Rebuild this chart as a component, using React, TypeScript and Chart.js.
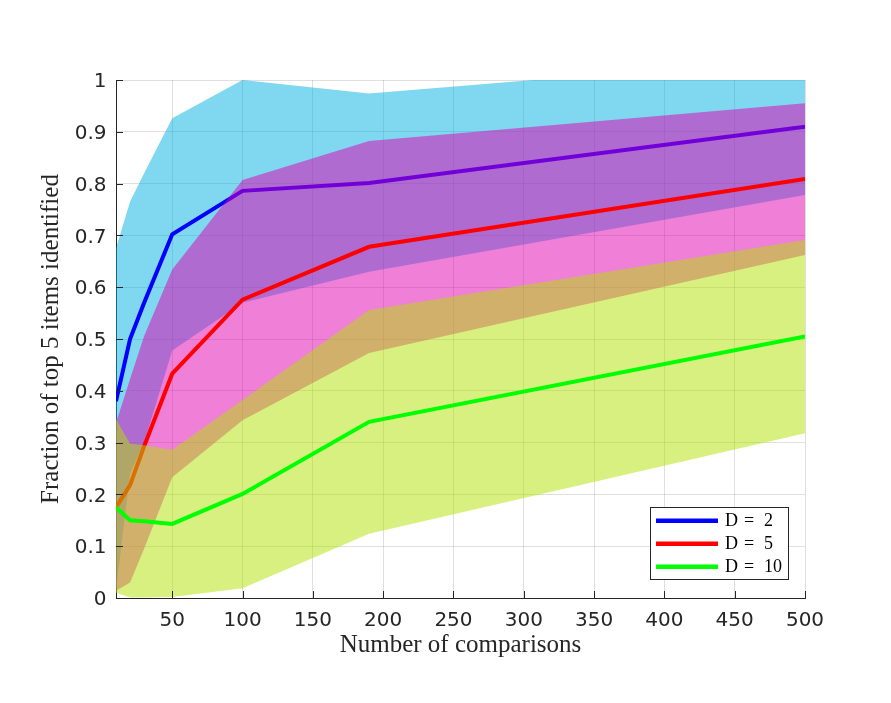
import React, { useEffect, useRef } from "react";
import { Chart, registerables } from "chart.js";

Chart.register(...registerables);

// ---- data ----
const xValues = [10, 20, 30, 50, 100, 190, 500];

const d2Mean = [0.38, 0.5, 0.57, 0.702, 0.786, 0.801, 0.91];
const d2Upper = [0.675, 0.765, 0.82, 0.926, 1.0, 0.974, 1.043];
const d2Lower = [0.015, 0.24, 0.3, 0.478, 0.57, 0.63, 0.778];

const d5Mean = [0.175, 0.218, 0.293, 0.433, 0.576, 0.678, 0.809];
const d5Upper = [0.338, 0.423, 0.506, 0.634, 0.807, 0.882, 0.955];
const d5Lower = [0.014, 0.03, 0.095, 0.233, 0.343, 0.473, 0.662];

const d10Mean = [0.175, 0.15, 0.148, 0.143, 0.201, 0.34, 0.505];
const d10Upper = [0.345, 0.298, 0.295, 0.286, 0.382, 0.556, 0.691];
const d10Lower = [0.01, 0.001, 0.001, 0.002, 0.019, 0.124, 0.318];

const seriesLabels = ["D = 2", "D = 5", "D = 10"];
const lineColors = ["#0000ff", "#ff0000", "#00ff00"];
const bandColors = ["rgba(0,175,225,0.5)", "rgba(225,0,177,0.5)", "rgba(177,225,0,0.5)"];

const xTickValues = [50, 100, 150, 200, 250, 300, 350, 400, 450, 500];
const yTickValues = [0, 0.1, 0.2, 0.3, 0.4, 0.5, 0.6, 0.7, 0.8, 0.9, 1];

const xTitle = "Number of comparisons";
const yTitle = "Fraction of top 5 items identified";

const AXIS_COLOR = "#262626";
const GRID_COLOR = "rgba(38,38,38,0.15)";

const pts = (ys: number[]) => xValues.map((x, i) => ({ x, y: ys[i] }));

const series = [
  { mean: d2Mean, upper: d2Upper, lower: d2Lower },
  { mean: d5Mean, upper: d5Upper, lower: d5Lower },
  { mean: d10Mean, upper: d10Upper, lower: d10Lower },
];

function buildDatasets() {
  const ds: any[] = [];
  let order = series.length * 3;
  series.forEach((s, i) => {
    ds.push({
      label: seriesLabels[i] + " upper",
      data: pts(s.upper),
      borderWidth: 0,
      borderColor: "rgba(0,0,0,0)",
      backgroundColor: bandColors[i],
      pointRadius: 0,
      fill: "+1",
      order: --order,
    });
    ds.push({
      label: seriesLabels[i] + " lower",
      data: pts(s.lower),
      borderWidth: 0,
      borderColor: "rgba(0,0,0,0)",
      pointRadius: 0,
      fill: false,
      order: --order,
    });
    ds.push({
      label: seriesLabels[i],
      data: pts(s.mean),
      borderWidth: 4,
      borderColor: lineColors[i],
      pointRadius: 0,
      fill: false,
      order: --order,
    });
  });
  return ds;
}

const innerTicksPlugin = {
  id: "innerTicks",
  afterDatasetsDraw(chart: any) {
    const { ctx, chartArea, scales } = chart;
    ctx.save();
    ctx.strokeStyle = AXIS_COLOR;
    ctx.lineWidth = 1;
    ctx.beginPath();
    xTickValues.forEach((v) => {
      const x = Math.round(scales.x.getPixelForValue(v)) + 0.5;
      ctx.moveTo(x, chartArea.bottom);
      ctx.lineTo(x, chartArea.bottom - 7);
    });
    yTickValues.forEach((v) => {
      const y = Math.round(scales.y.getPixelForValue(v)) + 0.5;
      ctx.moveTo(chartArea.left, y);
      ctx.lineTo(chartArea.left + 7, y);
    });
    ctx.stroke();
    ctx.restore();
  },
};

const boxLegendPlugin = {
  id: "boxLegend",
  afterDraw(chart: any) {
    const { ctx, chartArea } = chart;
    const w = 139;
    const h = 73;
    const right = chartArea.right - 16;
    const bottom = chartArea.bottom - 18;
    const left = right - w;
    const top = bottom - h;
    ctx.save();
    ctx.fillStyle = "#ffffff";
    ctx.fillRect(left, top, w, h);
    ctx.strokeStyle = AXIS_COLOR;
    ctx.lineWidth = 1;
    ctx.strokeRect(Math.round(left) + 0.5, Math.round(top) + 0.5, w - 1, h - 1);
    seriesLabels.forEach((label, i) => {
      const y = top + 13.7 + i * 23;
      ctx.strokeStyle = lineColors[i];
      ctx.lineWidth = 4.5;
      ctx.beginPath();
      ctx.moveTo(left + 6, y);
      ctx.lineTo(left + 68, y);
      ctx.stroke();
      ctx.fillStyle = "#000000";
      ctx.font = '18px "Liberation Serif"';
      ctx.textBaseline = "alphabetic";
      ctx.textAlign = "left";
      const parts = label.split(" ");
      const offs = [75, 94, 114];
      parts.forEach((p, k) => {
        ctx.fillText(p, left + offs[Math.min(k, offs.length - 1)], y + 5);
      });
    });
    ctx.restore();
  },
};

export default function App() {
  const ref = useRef<HTMLCanvasElement>(null);

  useEffect(() => {
    if (!ref.current) return;
    Chart.defaults.font.family = '"DejaVu Sans"';
    const chart = new Chart(ref.current, {
      type: "line",
      data: { datasets: buildDatasets() },
      options: {
        animation: false,
        responsive: false,
        layout: { padding: { top: 80, right: 86, bottom: 0, left: 0 } },
        plugins: {
          legend: { display: false },
          tooltip: { enabled: false },
          filler: { propagate: false },
        },
        elements: { line: { tension: 0 } },
        scales: {
          x: {
            type: "linear",
            min: 10,
            max: 500,
            afterBuildTicks: (scale: any) => {
              scale.ticks = xTickValues.map((v) => ({ value: v }));
            },
            afterFit: (scale: any) => {
              scale.height = 105;
            },
            ticks: {
              color: AXIS_COLOR,
              font: { size: 20, family: '"DejaVu Sans"' },
              padding: 11,
              maxRotation: 0,
              autoSkip: false,
              callback: (v: any) => String(v),
            },
            grid: { color: GRID_COLOR, drawTicks: false, lineWidth: 1 },
            border: { display: true, color: AXIS_COLOR, width: 1 },
            title: {
              display: true,
              text: xTitle,
              color: AXIS_COLOR,
              font: { size: 25, family: '"Liberation Serif"' },
              padding: { top: 0, bottom: 43 },
            },
          },
          y: {
            type: "linear",
            min: 0,
            max: 1,
            afterBuildTicks: (scale: any) => {
              scale.ticks = yTickValues.map((v) => ({ value: v }));
            },
            afterFit: (scale: any) => {
              scale.width = 116;
            },
            ticks: {
              color: AXIS_COLOR,
              font: { size: 20, family: '"DejaVu Sans"' },
              padding: 9.5,
              labelOffset: 2,
              autoSkip: false,
              callback: (v: any) => String(Math.round(Number(v) * 10) / 10),
            },
            grid: { color: GRID_COLOR, drawTicks: false, lineWidth: 1 },
            border: { display: true, color: AXIS_COLOR, width: 1 },
            title: {
              display: true,
              text: yTitle,
              color: AXIS_COLOR,
              font: { size: 25, family: '"Liberation Serif"' },
              padding: { top: 36.5, bottom: 0 },
            },
          },
        },
      },
      plugins: [innerTicksPlugin, boxLegendPlugin],
    });
    return () => chart.destroy();
  }, []);

  return (
    <div style={{ position: "absolute", left: 0, top: 0, width: 891, height: 703, background: "#ffffff" }}>
      <canvas ref={ref} width={891} height={703} style={{ display: "block", width: 891, height: 703 }} />
    </div>
  );
}
